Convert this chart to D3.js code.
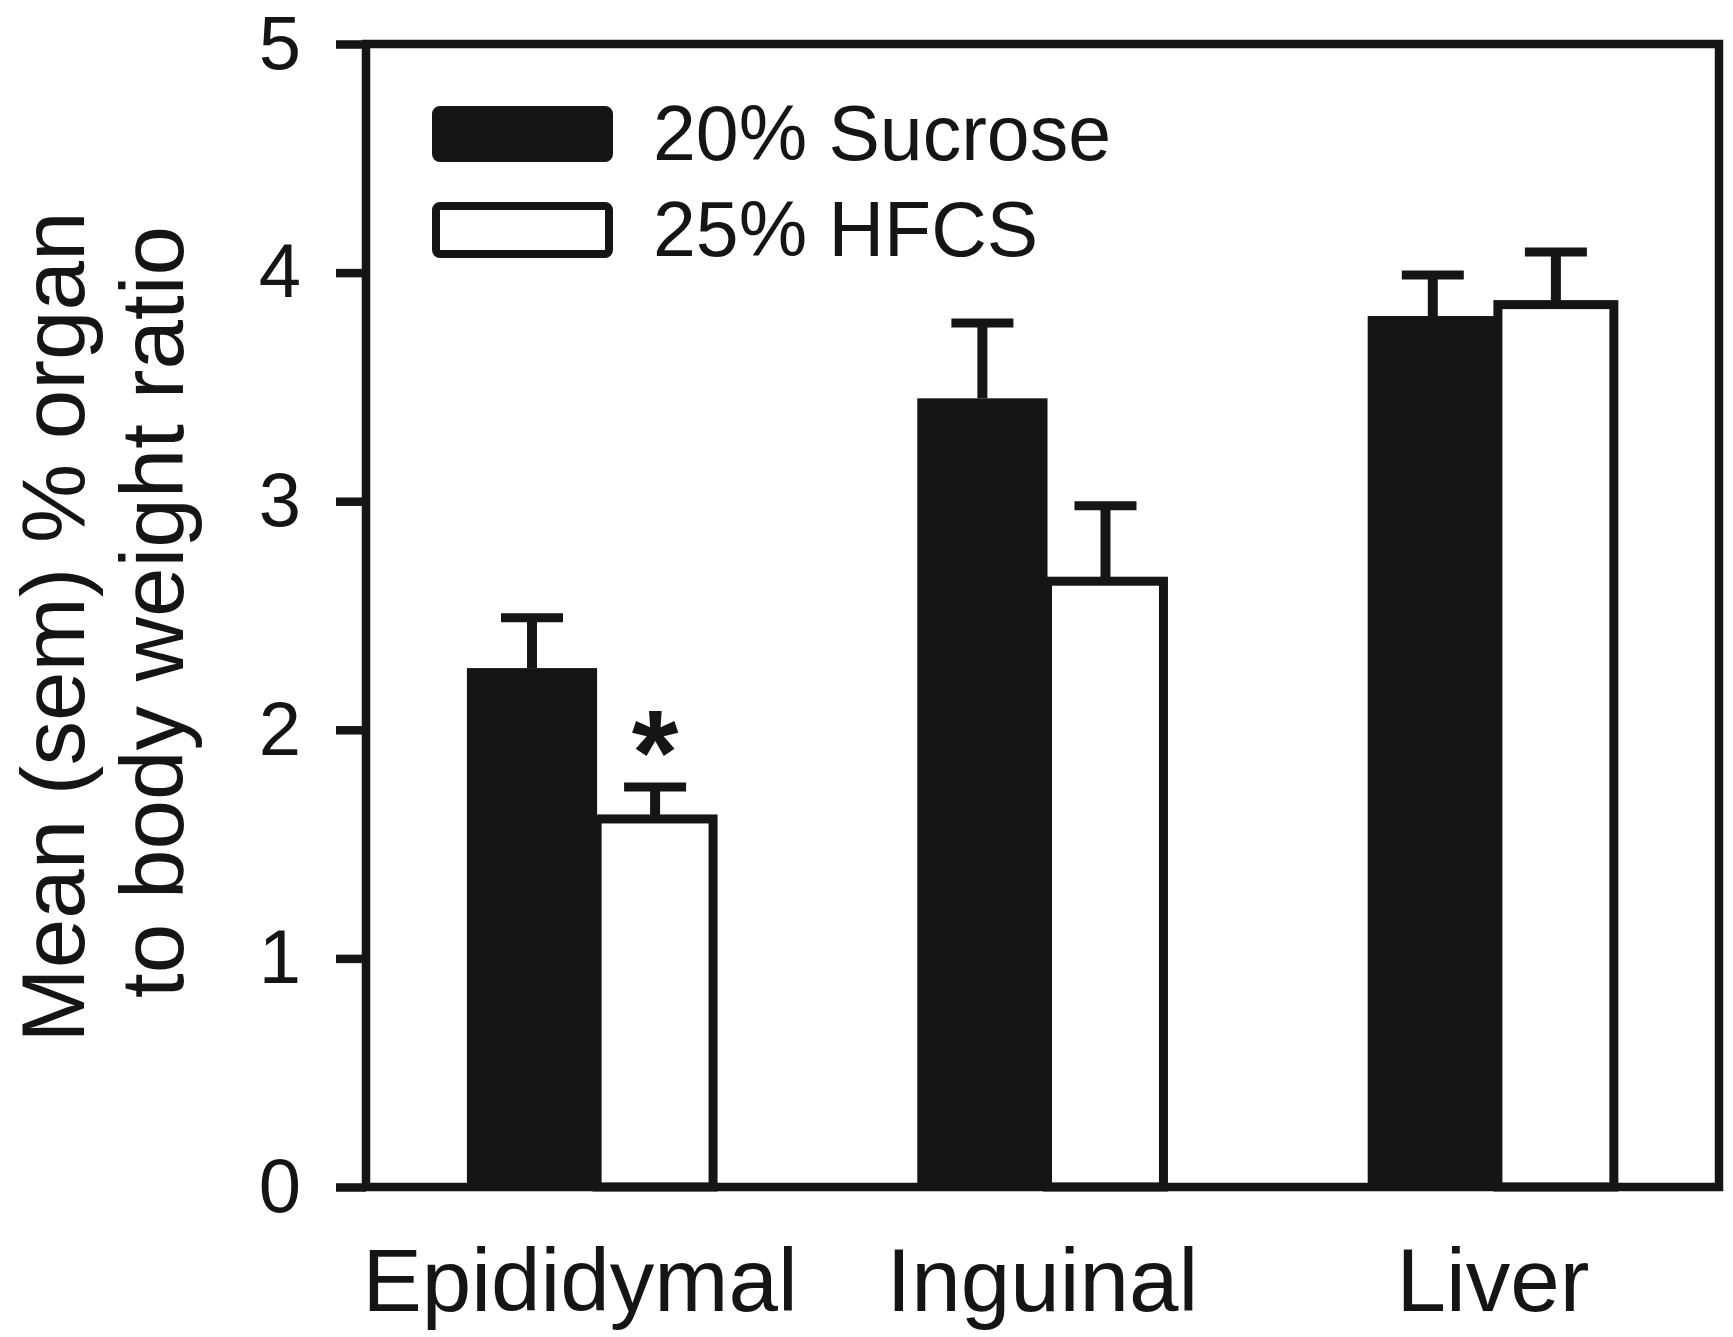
<!DOCTYPE html>
<html>
<head>
<meta charset="utf-8">
<script src="https://cdn.jsdelivr.net/npm/d3@7/dist/d3.min.js"></script>
<style>
    body { margin: 0; background: #fff; }
    text { font-family: "Liberation Sans", Arial, sans-serif; fill: #151515; }
</style>
</head>
<body>
<div id="chart"></div>
<script>

// Data
var categories = ["Epididymal", "Inguinal", "Liver"];
var seriesNames = ["20% Sucrose", "25% HFCS"];
var sucroseMean = [2.27, 3.45, 3.81],
    sucroseSem = [0.22, 0.33, 0.18];
var hfcsMean = [1.61, 2.65, 3.86],
    hfcsSem = [0.14, 0.33, 0.23];
var yTicks = [0, 1, 2, 3, 4, 5];
var significant = [true, false, false];   // asterisk over the HFCS bar


// --> CREATE SVG DRAWING AREA
var width = 1733,
    height = 1337;

var ink = "#151515",
    lineW = 8.5;

var svg = d3.select("#chart").append("svg")
    .attr("width", width)
    .attr("height", height);

var plot = { left: 366, right: 1719, top: 44, bottom: 1187 };


// Scales
var y = d3.scaleLinear()
    .domain([0, 5])
    .range([plot.bottom, plot.top]);

var x = d3.scaleBand()
    .domain(categories)
    .range([plot.left, plot.right])
    .paddingInner(0.444)
    .paddingOuter(0.224);

var bw = x.bandwidth(),
    blackW = bw * 0.52,
    whiteW = bw - blackW - lineW / 2;


// Build rows for bars
var rows = categories.map(function(c, i) {
    return {
        cat: c,
        suc: sucroseMean[i], sucSem: sucroseSem[i],
        hf: hfcsMean[i], hfSem: hfcsSem[i],
        star: significant[i]
    };
});


// White (HFCS) bars first, black bars drawn over their left edge
svg.selectAll(".bar-hfcs")
    .data(rows)
    .enter().append("rect")
    .attr("class", "bar-hfcs")
    .attr("x", function(d) { return x(d.cat) + blackW; })
    .attr("y", function(d) { return y(d.hf); })
    .attr("width", whiteW)
    .attr("height", function(d) { return y(0) - y(d.hf); })
    .attr("fill", "#fff")
    .attr("stroke", ink)
    .attr("stroke-width", 9);

svg.selectAll(".bar-suc")
    .data(rows)
    .enter().append("rect")
    .attr("class", "bar-suc")
    .attr("x", function(d) { return x(d.cat); })
    .attr("y", function(d) { return y(d.suc); })
    .attr("width", blackW)
    .attr("height", function(d) { return y(0) - y(d.suc); })
    .attr("fill", ink);


// Error bars (upper only)
var capW = 62;

function errorBars(cls, cx, val, sem) {
    var g = svg.selectAll("g." + cls)
        .data(rows)
        .enter().append("g")
        .attr("class", cls);

    g.append("line")
        .attr("x1", cx).attr("x2", cx)
        .attr("y1", function(d) { return y(val(d)); })
        .attr("y2", function(d) { return y(val(d) + sem(d)); })
        .attr("stroke", ink)
        .attr("stroke-width", 10);

    g.append("line")
        .attr("x1", function(d) { return cx(d) - capW / 2; })
        .attr("x2", function(d) { return cx(d) + capW / 2; })
        .attr("y1", function(d) { return y(val(d) + sem(d)); })
        .attr("y2", function(d) { return y(val(d) + sem(d)); })
        .attr("stroke", ink)
        .attr("stroke-width", 9);
}

errorBars("err-suc",
    function(d) { return x(d.cat) + blackW / 2; },
    function(d) { return d.suc; },
    function(d) { return d.sucSem; });

errorBars("err-hfcs",
    function(d) { return x(d.cat) + blackW + whiteW / 2; },
    function(d) { return d.hf; },
    function(d) { return d.hfSem; });


// Significance asterisk
svg.selectAll(".star")
    .data(rows.filter(function(d) { return d.star; }))
    .enter().append("text")
    .attr("class", "star")
    .attr("x", function(d) { return x(d.cat) + blackW + whiteW / 2; })
    .attr("y", function(d) { return y(d.hf + d.hfSem) + 7; })
    .attr("text-anchor", "middle")
    .style("font-size", "120px")
    .style("font-weight", "bold")
    .text("*");


// Frame
svg.append("rect")
    .attr("x", plot.left)
    .attr("y", plot.top)
    .attr("width", plot.right - plot.left)
    .attr("height", plot.bottom - plot.top)
    .attr("fill", "none")
    .attr("stroke", ink)
    .attr("stroke-width", lineW);


// Y axis
var yAxis = d3.axisLeft(y)
    .tickValues(yTicks)
    .tickSize(30)
    .tickPadding(35)
    .tickFormat(d3.format("d"));

var gy = svg.append("g")
    .attr("transform", "translate(" + plot.left + ",0)")
    .call(yAxis);

gy.select(".domain").remove();
gy.selectAll(".tick line")
    .attr("stroke", ink)
    .attr("stroke-width", lineW);
gy.selectAll(".tick text")
    .style("font-size", "76px")
    .attr("fill", ink);


// X category labels
svg.selectAll(".xlabel")
    .data(categories)
    .enter().append("text")
    .attr("class", "xlabel")
    .attr("x", function(d) { return x(d) + bw / 2; })
    .attr("dx", function(d, i) { return i === 0 ? -12 : 0; })
    .attr("y", 1311)
    .attr("text-anchor", "middle")
    .style("font-size", "89px")
    .text(function(d) { return d; });


// Y axis title
svg.append("text")
    .attr("transform", "translate(84,627) rotate(-90)")
    .attr("text-anchor", "middle")
    .style("font-size", "89px")
    .text("Mean (sem) % organ");

svg.append("text")
    .attr("transform", "translate(183,612) rotate(-90)")
    .attr("text-anchor", "middle")
    .style("font-size", "89px")
    .text("to body weight ratio");


// Legend
var legend = svg.selectAll("g.legend")
    .data(seriesNames)
    .enter().append("g")
    .attr("class", "legend")
    .attr("transform", function(d, i) { return "translate(436," + (110 + i * 96) + ")"; });

legend.append("rect")
    .attr("width", 173)
    .attr("height", 48)
    .attr("rx", 4)
    .attr("fill", function(d, i) { return i === 0 ? ink : "#fff"; })
    .attr("stroke", ink)
    .attr("stroke-width", 8);

legend.append("text")
    .attr("x", 217)
    .attr("y", 50)
    .style("font-size", "77px")
    .text(function(d) { return d; });

</script>
</body>
</html>
